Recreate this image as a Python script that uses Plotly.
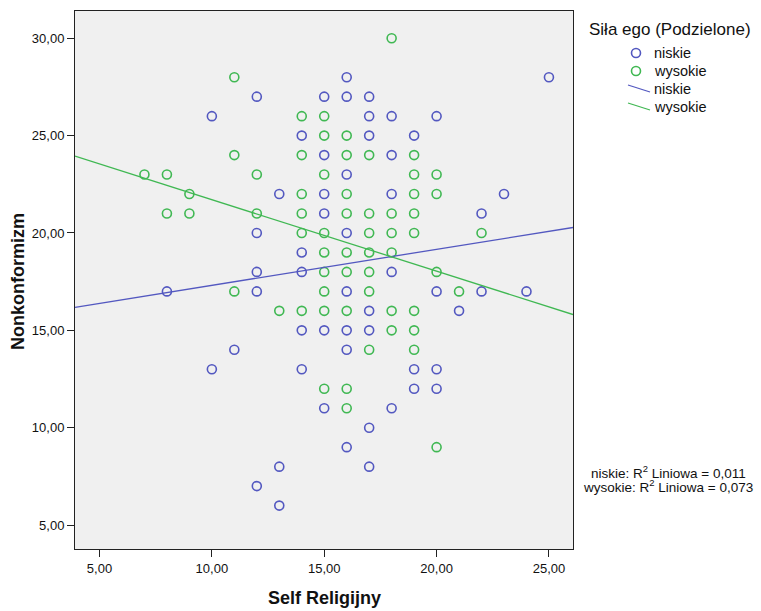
import plotly.graph_objects as go

# Self Religijny (x) vs Nonkonformizm (y), grouped by "Siła ego (Podzielone)"
niskie_self = [25, 16, 12, 15, 16, 17, 10, 17, 18, 20, 14, 17, 19, 15, 18, 16, 13, 15, 18, 23,
               15, 22, 12, 16, 14, 12, 14, 18, 8, 12, 16, 20, 22, 24, 17, 21, 14, 15, 16, 17,
               11, 16, 10, 14, 19, 20, 19, 20, 15, 18, 17, 16, 13, 17, 12, 13]
niskie_nonk = [28, 28, 27, 27, 27, 27, 26, 26, 26, 26, 25, 25, 25, 24, 24, 23, 22, 22, 22, 22,
               21, 21, 20, 20, 19, 18, 18, 18, 17, 17, 17, 17, 17, 17, 16, 16, 15, 15, 15, 15,
               14, 14, 13, 13, 13, 13, 12, 12, 11, 11, 10, 9, 8, 8, 7, 6]

wysokie_self = [18, 11, 14, 15, 15, 16, 11, 14, 16, 17, 19, 7, 8, 12, 15, 19, 20, 9, 14, 16,
                19, 20, 8, 9, 12, 14, 16, 17, 18, 19, 14, 15, 17, 18, 19, 22, 15, 16, 17, 18,
                15, 16, 17, 20, 11, 15, 17, 21, 13, 14, 15, 16, 18, 19, 18, 19, 17, 19, 15, 16,
                16, 20]
wysokie_nonk = [30, 28, 26, 26, 25, 25, 24, 24, 24, 24, 24, 23, 23, 23, 23, 23, 23, 22, 22, 22,
                22, 22, 21, 21, 21, 21, 21, 21, 21, 21, 20, 20, 20, 20, 20, 20, 19, 19, 19, 19,
                18, 18, 18, 18, 17, 17, 17, 17, 16, 16, 16, 16, 16, 16, 15, 15, 14, 14, 12, 12,
                11, 9]

# Linear fit per group: (intercept, slope) and R² labels
fit_niskie = (15.46, 0.185)
fit_wysokie = (25.38, -0.367)
r2_niskie = "0,011"
r2_wysokie = "0,073"

group_names = ["niskie", "wysokie"]
legend_title = "Siła ego (Podzielone)"
x_ticks = [5, 10, 15, 20, 25]
y_ticks = [5, 10, 15, 20, 25, 30]

X_RANGE = [3.91, 26.07]
Y_RANGE = [3.77, 31.40]

W, H = 761, 611
M_L, M_R, M_T, M_B = 75, 188, 11, 62
PW, PH = W - M_L - M_R, H - M_T - M_B

BLUE = "#5358C0"
GREEN = "#40B853"
FONT = "Arial, Liberation Sans, sans-serif"


def px(xp):
    """Horizontal page pixel -> paper coordinate."""
    return (xp - M_L) / PW


def py(yp):
    """Vertical page pixel -> paper coordinate."""
    return (H - M_B - yp) / PH


fig = go.Figure()

fig.add_trace(go.Scatter(
    x=niskie_self, y=niskie_nonk, mode="markers", name=group_names[0],
    marker=dict(symbol="circle-open", size=9, color=BLUE, line=dict(width=1.6, color=BLUE)),
))
fig.add_trace(go.Scatter(
    x=wysokie_self, y=wysokie_nonk, mode="markers", name=group_names[1],
    marker=dict(symbol="circle-open", size=9, color=GREEN, line=dict(width=1.6, color=GREEN)),
))

for (b0, b1), name, col in [(fit_niskie, group_names[0], BLUE), (fit_wysokie, group_names[1], GREEN)]:
    xs = X_RANGE
    ys = [b0 + b1 * v for v in xs]
    fig.add_trace(go.Scatter(x=xs, y=ys, mode="lines", name=name,
                             line=dict(color=col, width=1.3)))

# Legend drawn beside the plot: two marker keys, two line keys
shapes = []
annotations = [
    dict(text=legend_title, xref="paper", yref="paper",
         x=px(587), y=py(30), xanchor="left", yanchor="middle",
         showarrow=False, font=dict(size=17, color="#111")),
]
legend_rows = [53, 71, 89, 107]
for i, (name, col) in enumerate(zip(group_names, [BLUE, GREEN])):
    shapes.append(dict(type="circle", xref="paper", yref="paper",
                       xsizemode="pixel", ysizemode="pixel",
                       xanchor=px(636), yanchor=py(legend_rows[i]),
                       x0=-4.5, x1=4.5, y0=-4.5, y1=4.5,
                       line=dict(color=col, width=1.6)))
    shapes.append(dict(type="line", xref="paper", yref="paper",
                       x0=px(628), x1=px(650),
                       y0=py(legend_rows[i + 2] - 4), y1=py(legend_rows[i + 2] + 3),
                       line=dict(color=col, width=1.3)))
for i, name in enumerate(group_names + group_names):
    annotations.append(dict(text=name, xref="paper", yref="paper",
                            x=px(652), y=py(legend_rows[i]), xanchor="left", yanchor="middle",
                            showarrow=False, font=dict(size=14.5, color="#111")))

annotations += [
    dict(text="Self Religijny", xref="paper", yref="paper",
         x=0.5, y=py(598), xanchor="center", yanchor="middle",
         showarrow=False, font=dict(size=18, color="#111", family=FONT, weight="bold")),
    dict(text="Nonkonformizm", xref="paper", yref="paper",
         x=px(18), y=py(282), xanchor="center", yanchor="middle", textangle=-90,
         showarrow=False, font=dict(size=18, color="#111", family=FONT, weight="bold")),
    dict(text=f"{group_names[0]}: R<sup>2</sup> Liniowa = {r2_niskie}", xref="paper", yref="paper",
         x=px(668), y=py(472), xanchor="center", yanchor="middle",
         showarrow=False, font=dict(size=13.5, color="#111")),
    dict(text=f"{group_names[1]}: R<sup>2</sup> Liniowa = {r2_wysokie}", xref="paper", yref="paper",
         x=px(668), y=py(486), xanchor="center", yanchor="middle",
         showarrow=False, font=dict(size=13.5, color="#111")),
]

fig.update_layout(
    width=W, height=H,
    margin=dict(l=M_L, r=M_R, t=M_T, b=M_B),
    paper_bgcolor="white",
    plot_bgcolor="#F0F0F0",
    separators=", ",
    font=dict(family=FONT, size=13, color="#111"),
    showlegend=False,
    shapes=shapes,
    annotations=annotations,
)

fig.update_xaxes(
    range=X_RANGE, tickvals=x_ticks, tickformat=".2f",
    showgrid=False, zeroline=False,
    showline=True, mirror=True, linecolor="#222", linewidth=1,
    ticks="outside", ticklen=7, tickcolor="#222",
    tickfont=dict(size=13, color="#111"),
)
fig.update_yaxes(
    range=Y_RANGE, tickvals=y_ticks, tickformat=".2f",
    showgrid=False, zeroline=False,
    showline=True, mirror=True, linecolor="#222", linewidth=1,
    ticks="outside", ticklen=7, tickcolor="#222",
    tickfont=dict(size=13, color="#111"),
)

fig.write_html("out.html")
